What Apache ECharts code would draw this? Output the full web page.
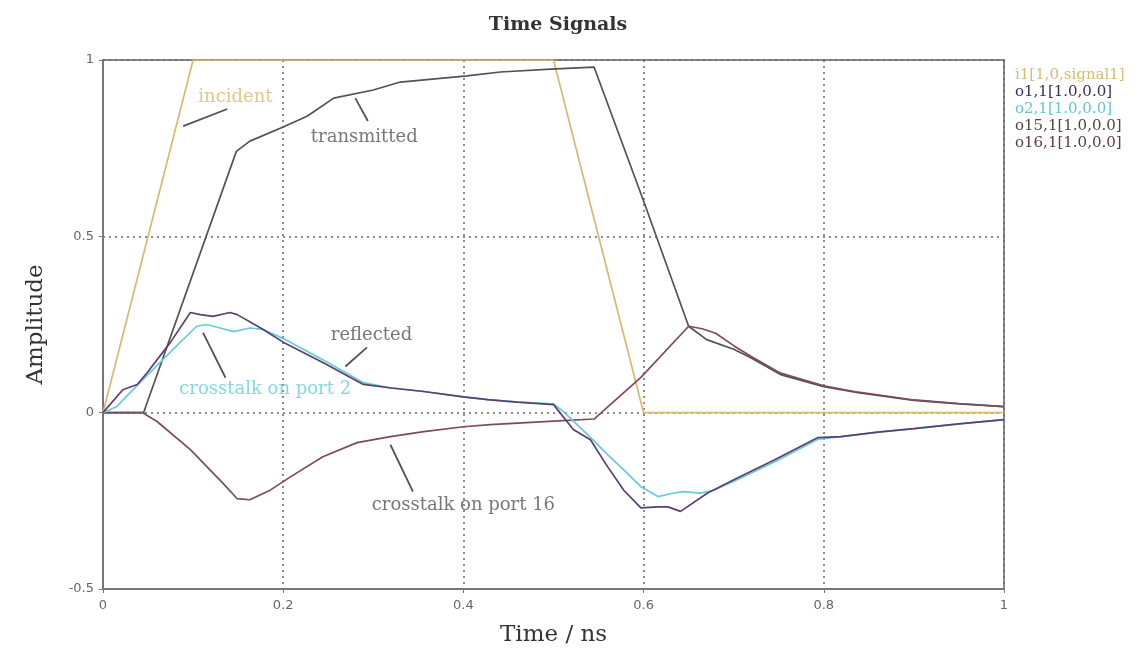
<!DOCTYPE html>
<html>
<head>
<meta charset="utf-8">
<title>Time Signals</title>
<script src="https://cdn.jsdelivr.net/npm/echarts@6/dist/echarts.min.js"></script>
<style>
  html, body { margin: 0; padding: 0; background: #ffffff; }
  #chart { width: 1146px; height: 654px; }
</style>
</head>
<body>
<div id="chart"></div>
<script>
// Time axis ticks
const timeTicks = [0, 0.2, 0.4, 0.6, 0.8, 1];
const amplitudeTicks = [-0.5, 0, 0.5, 1];

// i1[1,0,signal1] — incident pulse
const incidentT = [0, 0.1, 0.5, 0.6, 1];
const incidentV = [0, 1, 1, 0, 0];

// o1,1 — reflected
const reflectedT = [0, 0.022, 0.038, 0.049, 0.075, 0.097, 0.108, 0.122, 0.141, 0.149, 0.175, 0.2, 0.244, 0.289, 0.32, 0.356, 0.4, 0.427, 0.46, 0.5, 0.504, 0.522, 0.541, 0.56, 0.578, 0.597, 0.616, 0.627, 0.641, 0.671, 0.708, 0.745, 0.793, 0.819, 0.86, 0.9, 0.95, 1];
const reflectedV = [0, 0.065, 0.08, 0.113, 0.2, 0.284, 0.278, 0.273, 0.284, 0.278, 0.24, 0.2, 0.142, 0.08, 0.07, 0.06, 0.045, 0.037, 0.03, 0.023, 0.01, -0.048, -0.077, -0.153, -0.22, -0.27, -0.267, -0.267, -0.28, -0.228, -0.18, -0.134, -0.071, -0.068, -0.055, -0.045, -0.032, -0.02];

// o2,1 — crosstalk on port 2
const crosstalk2T = [0, 0.015, 0.041, 0.078, 0.104, 0.115, 0.13, 0.145, 0.163, 0.178, 0.2, 0.244, 0.289, 0.32, 0.356, 0.4, 0.427, 0.46, 0.5, 0.511, 0.541, 0.56, 0.578, 0.597, 0.616, 0.63, 0.644, 0.663, 0.678, 0.708, 0.745, 0.793, 0.819, 0.86, 0.9, 0.95, 1];
const crosstalk2V = [0, 0.017, 0.085, 0.18, 0.245, 0.25, 0.24, 0.23, 0.24, 0.236, 0.21, 0.15, 0.085, 0.07, 0.06, 0.045, 0.037, 0.03, 0.025, 0.003, -0.07, -0.119, -0.162, -0.21, -0.238, -0.23, -0.224, -0.228, -0.22, -0.185, -0.14, -0.076, -0.068, -0.055, -0.045, -0.032, -0.02];

// o15,1 — transmitted
const transmittedT = [0, 0.045, 0.148, 0.163, 0.2, 0.227, 0.256, 0.3, 0.33, 0.404, 0.441, 0.497, 0.545, 0.6, 0.65, 0.67, 0.7, 0.719, 0.752, 0.8, 0.838, 0.9, 0.95, 1];
const transmittedV = [0, 0, 0.741, 0.77, 0.81, 0.841, 0.892, 0.915, 0.9375, 0.955, 0.966, 0.974, 0.98, 0.6, 0.245, 0.207, 0.18, 0.156, 0.108, 0.074, 0.057, 0.035, 0.025, 0.017];

// o16,1 — crosstalk on port 16
const crosstalk16T = [0, 0.044, 0.06, 0.097, 0.133, 0.149, 0.163, 0.186, 0.208, 0.244, 0.282, 0.319, 0.356, 0.4, 0.43, 0.5, 0.545, 0.597, 0.65, 0.665, 0.68, 0.7, 0.719, 0.752, 0.8, 0.838, 0.9, 0.95, 1];
const crosstalk16V = [0, 0, -0.025, -0.105, -0.2, -0.244, -0.247, -0.219, -0.182, -0.125, -0.085, -0.068, -0.054, -0.04, -0.034, -0.024, -0.018, 0.1, 0.245, 0.238, 0.225, 0.19, 0.16, 0.112, 0.076, 0.058, 0.036, 0.026, 0.017];

// Curve labels, anchored in (time, amplitude) units
const labelNames = ['incident', 'transmitted', 'reflected', 'crosstalk on port 2', 'crosstalk on port 16'];
const labelAt = [[0.147, 0.895], [0.29, 0.78], [0.298, 0.219], [0.18, 0.065], [0.4, -0.264]];
const leaderFrom = [[0.089, 0.8125], [0.28, 0.892], [0.269, 0.131], [0.111, 0.227], [0.319, -0.091]];
const leaderTo = [[0.138, 0.861], [0.294, 0.827], [0.293, 0.185], [0.136, 0.099], [0.344, -0.224]];

const colors = {
  incident: '#d9b96e',
  reflected: '#5b3f72',
  crosstalk2: '#66cdd8',
  transmitted: '#55534a',
  crosstalk16: '#7d4a64'
};
const labelColors = [colors.incident, '#555555', '#555555', colors.crosstalk2, '#555555'];

const zip = (t, v) => t.map((x, i) => [x, v[i]]);

const serif = '"DejaVu Serif", "Liberation Serif", serif';

function curve(name, t, v, color) {
  return {
    name: name,
    type: 'line',
    data: zip(t, v),
    showSymbol: false,
    symbol: 'none',
    smooth: false,
    lineStyle: { color: color, width: 1.7 },
    itemStyle: { color: color },
    silent: true,
    z: 3
  };
}

const chart = echarts.init(document.getElementById('chart'), null, { renderer: 'canvas' });

const legendNames = ['i1[1,0,signal1]', 'o1,1[1.0,0.0]', 'o2,1[1.0,0.0]', 'o15,1[1.0,0.0]', 'o16,1[1.0,0.0]'];
const legendColors = ['#d6bd72', '#3b2f57', '#63c7d4', '#4d4b40', '#5e3d4b'];

const option = {
  backgroundColor: '#ffffff',
  animation: false,
  title: {
    text: 'Time Signals',
    left: 553,
    top: 11,
    textAlign: 'center',
    textStyle: { fontFamily: serif, fontSize: 19, fontWeight: 'bold', color: '#333333' }
  },
  legend: {
    orient: 'vertical',
    left: 1005,
    top: 62,
    itemWidth: 0,
    itemHeight: 16,
    itemGap: 1,
    icon: 'rect',
    selectedMode: false,
    data: legendNames.map((n, i) => ({ name: n, textStyle: { color: legendColors[i] } })),
    textStyle: { fontFamily: serif, fontSize: 15, lineHeight: 16 }
  },
  grid: {
    left: 103,
    right: 142,
    top: 60,
    bottom: 65,
    show: true,
    borderColor: '#888888',
    borderWidth: 2,
    backgroundColor: '#ffffff'
  },
  xAxis: {
    type: 'value',
    min: timeTicks[0],
    max: timeTicks[timeTicks.length - 1],
    interval: 0.2,
    name: 'Time / ns',
    nameLocation: 'middle',
    nameGap: 35,
    nameTextStyle: { fontFamily: serif, fontSize: 23, color: '#333333' },
    axisLine: { onZero: false, lineStyle: { color: '#777777', width: 2 } },
    axisTick: { show: true, length: 4, lineStyle: { color: '#777777' } },
    axisLabel: {
      color: '#666666', fontFamily: '"DejaVu Sans", sans-serif', fontSize: 13, margin: 10,
      formatter: v => String(v)
    },
    splitLine: { show: true, lineStyle: { color: '#666666', type: [2, 4], width: 1.5 } }
  },
  yAxis: {
    type: 'value',
    min: amplitudeTicks[0],
    max: amplitudeTicks[amplitudeTicks.length - 1],
    interval: 0.5,
    name: 'Amplitude',
    nameLocation: 'middle',
    nameRotate: 90,
    nameGap: 55,
    nameTextStyle: { fontFamily: serif, fontSize: 23, color: '#333333' },
    axisLine: { show: true, lineStyle: { color: '#777777', width: 2 } },
    axisTick: { show: true, length: 4, lineStyle: { color: '#777777' } },
    axisLabel: {
      color: '#666666', fontFamily: '"DejaVu Sans", sans-serif', fontSize: 13, margin: 9,
      formatter: v => String(v)
    },
    splitLine: { show: true, lineStyle: { color: '#666666', type: [2, 4], width: 1.5 } }
  },
  series: [
    curve(legendNames[0], incidentT, incidentV, colors.incident),
    curve(legendNames[3], transmittedT, transmittedV, colors.transmitted),
    curve(legendNames[4], crosstalk16T, crosstalk16V, colors.crosstalk16),
    curve(legendNames[2], crosstalk2T, crosstalk2V, colors.crosstalk2),
    curve(legendNames[1], reflectedT, reflectedV, colors.reflected),
    {
      name: 'leaders',
      type: 'lines',
      coordinateSystem: 'cartesian2d',
      silent: true,
      z: 4,
      lineStyle: { color: '#52525e', width: 1.8, opacity: 1 },
      data: leaderFrom.map((p, i) => ({ coords: [p, leaderTo[i]] }))
    },
    {
      name: 'curve labels',
      type: 'scatter',
      silent: true,
      symbol: 'circle',
      symbolSize: 1,
      itemStyle: { color: 'rgba(0,0,0,0)' },
      z: 5,
      data: labelAt.map((p, i) => ({
        value: p,
        label: {
          show: true,
          position: 'inside',
          formatter: labelNames[i],
          color: labelColors[i],
          fontFamily: serif,
          fontSize: 18
        }
      }))
    }
  ]
};

chart.setOption(option);
</script>
</body>
</html>
